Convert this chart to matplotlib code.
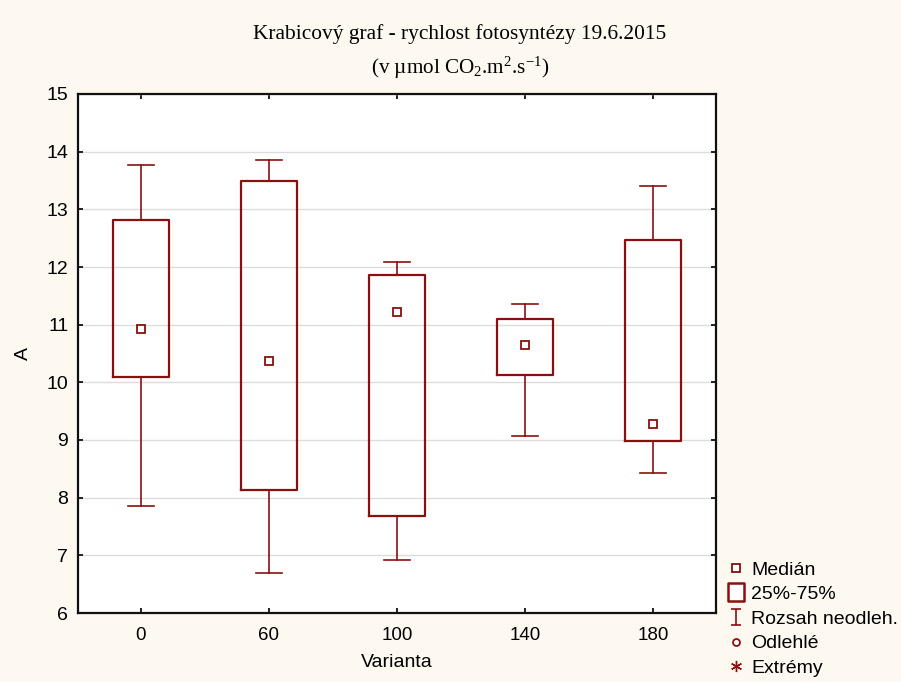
import matplotlib
matplotlib.use("Agg")
import matplotlib.pyplot as plt
from matplotlib.lines import Line2D
from matplotlib.path import Path

# Photosynthesis rate per treatment variant
categories = ["0", "60", "100", "140", "180"]
medians = [10.93, 10.37, 11.22, 10.65, 9.28]
q1 = [10.09, 8.13, 7.68, 10.13, 8.98]
q3 = [12.82, 13.49, 11.86, 11.10, 12.47]
whisker_low = [7.86, 6.69, 6.92, 9.07, 8.43]
whisker_high = [13.77, 13.85, 12.08, 11.36, 13.40]

MAROON = "#8b0f0f"
BG = "#fdf9f0"

plt.rcParams["font.family"] = ["Liberation Sans", "DejaVu Sans"]
plt.rcParams["mathtext.fontset"] = "custom"
plt.rcParams["mathtext.rm"] = "Liberation Serif"
plt.rcParams["mathtext.it"] = "Liberation Serif:italic"

fig = plt.figure(figsize=(9.01, 6.82), dpi=100, facecolor=BG)
ax = fig.add_axes([78 / 901, 1 - 613 / 682, 638 / 901, 519 / 682])
ax.set_facecolor("white")

positions = list(range(len(categories)))
stats = [
    dict(med=m, q1=a, q3=b, whislo=lo, whishi=hi, fliers=[], label=c)
    for c, m, a, b, lo, hi in zip(categories, medians, q1, q3, whisker_low, whisker_high)
]
ax.bxp(
    stats,
    positions=positions,
    widths=0.44,
    capwidths=0.2,
    showfliers=False,
    boxprops=dict(color=MAROON, linewidth=1.6),
    whiskerprops=dict(color=MAROON, linewidth=1.2),
    capprops=dict(color=MAROON, linewidth=1.2),
    medianprops=dict(visible=False),
    zorder=3,
)
ax.plot(positions, medians, linestyle="none", marker="s", markersize=5.5,
        markerfacecolor="white", markeredgecolor=MAROON, markeredgewidth=1.3, zorder=4)

ax.set_xlim(-0.492, 4.492)
ax.set_ylim(6, 15)
ax.set_yticks(range(6, 16))
ax.set_xticks(positions)
ax.set_xticklabels(categories)
ax.yaxis.grid(True, color="#dcdcdc", linewidth=1.0)
ax.set_axisbelow(True)
ax.tick_params(axis="both", direction="in", length=3.5, width=1.3, color="#111111",
               top=True, right=True)
ax.tick_params(axis="y", labelsize=14, pad=7)
ax.tick_params(axis="x", labelsize=13.5, pad=10)
for sp in ax.spines.values():
    sp.set_color("#111111")
    sp.set_linewidth(1.6)

ax.set_ylabel("A", fontsize=14)
ax.yaxis.set_label_coords(-0.072, 0.5)
ax.set_xlabel("Varianta", fontsize=14)
ax.xaxis.set_label_coords(0.5, -0.079)

fig.text(460 / 901, 1 - 34 / 682, "Krabicový graf - rychlost fotosyntézy 19.6.2015",
         family="Liberation Serif", fontsize=15.4, ha="center", va="center")
fig.text(460 / 901, 1 - 68 / 682, r"(v µmol CO$_2$.m$^2$.s$^{-1}$)",
         family="Liberation Serif", fontsize=15.2, ha="center", va="center")

# Legend symbols
whisker_path = Path(
    [(-0.33, 0.5), (0.33, 0.5), (0, 0.5), (0, -0.5), (-0.33, -0.5), (0.33, -0.5)],
    [Path.MOVETO, Path.LINETO, Path.MOVETO, Path.LINETO, Path.MOVETO, Path.LINETO],
)
box_path = Path(
    [(-0.42, -0.5), (0.42, -0.5), (0.42, 0.5), (-0.42, 0.5), (-0.42, -0.5)],
    [Path.MOVETO, Path.LINETO, Path.LINETO, Path.LINETO, Path.CLOSEPOLY],
)
handles = [
    Line2D([], [], linestyle="none", marker="s", markersize=5.5, markerfacecolor="white",
           markeredgecolor=MAROON, markeredgewidth=1.3),
    Line2D([], [], linestyle="none", marker=box_path, markersize=13.5, markerfacecolor="white",
           markeredgecolor=MAROON, markeredgewidth=1.8),
    Line2D([], [], linestyle="none", marker=whisker_path, markersize=11,
           markerfacecolor="none", markeredgecolor=MAROON, markeredgewidth=1.2),
    Line2D([], [], linestyle="none", marker="o", markersize=5, markerfacecolor="white",
           markeredgecolor=MAROON, markeredgewidth=1.3),
    Line2D([], [], linestyle="none", marker=(6, 2, 0), markersize=8,
           markeredgecolor=MAROON, markeredgewidth=1.0),
]
labels = ["Medián", "25%-75%", "Rozsah neodleh.", "Odlehlé", "Extrémy"]
fig.legend(handles, labels, loc="upper left", bbox_to_anchor=(726 / 901, 1 - 561 / 682),
           frameon=False, fontsize=14, handlelength=1.0, handletextpad=0.3,
           labelspacing=0.36, borderpad=0, borderaxespad=0)

fig.savefig("out.png", dpi=100, facecolor=BG)
